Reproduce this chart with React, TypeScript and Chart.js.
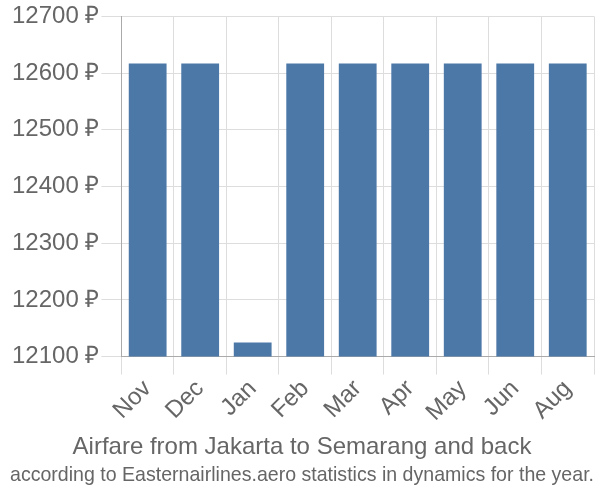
import React, { useEffect, useRef } from "react";
import { Chart, registerables } from "chart.js";

Chart.register(...registerables);

const categories = ["Nov", "Dec", "Jan", "Feb", "Mar", "Apr", "May", "Jun", "Aug"];
const prices = [12617, 12617, 12125, 12617, 12617, 12617, 12617, 12617, 12617];
const titleLine = "Airfare from Jakarta to Semarang and back";
const subtitleLine = "according to Easternairlines.aero statistics in dynamics for the year.";

export default function App() {
  const ref = useRef<HTMLCanvasElement | null>(null);
  useEffect(() => {
    document.body.style.margin = "0";
    const ctx = ref.current!;
    const chart = new Chart(ctx, {
      type: "bar",
      data: {
        labels: categories,
        datasets: [
          {
            data: prices,
            backgroundColor: "#4c78a8",
            borderWidth: 0,
            barPercentage: 0.72,
            categoryPercentage: 1,
          },
        ],
      },
      options: {
        responsive: false,
        animation: false,
        devicePixelRatio: 1,
        layout: { padding: { top: 2, right: 6, left: 10, bottom: 0 } },
        plugins: {
          legend: { display: false },
          tooltip: { enabled: false },
          title: {
            display: true,
            text: titleLine,
            position: "bottom",
            weight: 1000,
            color: "#666",
            font: { family: "Liberation Sans", size: 24, weight: "normal" },
            padding: { top: 6, bottom: 0 },
          },
          subtitle: {
            display: true,
            text: subtitleLine,
            position: "bottom",
            color: "#666",
            font: { family: "Liberation Sans", size: 21, weight: "normal" },
            padding: { top: 1, bottom: 12 },
          },
        } as any,
        scales: {
          x: {
            grid: { color: "#dddddd", drawTicks: true, tickLength: 18, offset: true },
            border: { color: "#aaaaaa" },
            ticks: {
              color: "#666",
              padding: 0,
              font: { family: "Liberation Sans", size: 24 },
              maxRotation: 45,
              minRotation: 45,
            },
          },
          y: {
            min: 12100,
            max: 12700,
            grid: { color: "#dddddd", tickLength: 20 },
            border: { color: "#aaaaaa" },
            ticks: {
              stepSize: 100,
              padding: 2,
              color: "#666",
              font: { family: "Liberation Sans", size: 24 },
              callback: (v: any) => v + " ₽",
            },
          },
        },
      },
    });
    return () => chart.destroy();
  }, []);
  return (
    <div style={{ position: "absolute", left: 0, top: 0, width: 600, height: 500 }}>
      <canvas ref={ref} width={600} height={500} />
    </div>
  );
}
